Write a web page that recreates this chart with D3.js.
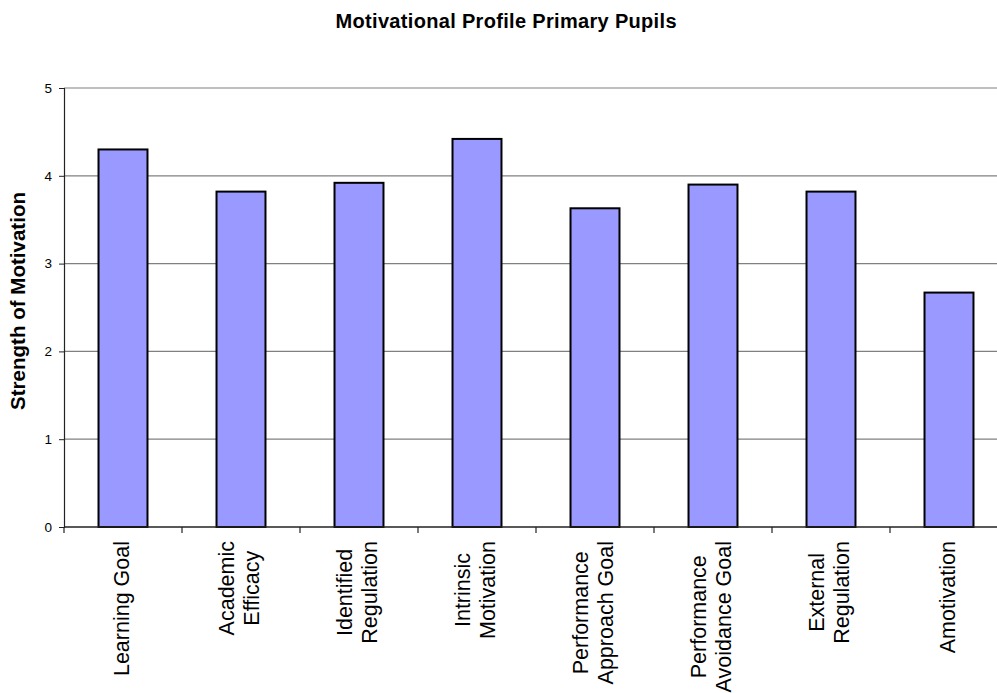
<!DOCTYPE html>
<html>
<head>
<meta charset="utf-8">
<script src="https://cdn.jsdelivr.net/npm/d3@7"></script>
<style>
  html, body { margin: 0; padding: 0; background: #fff; }
  svg { display: block; font-family: Arial, "Liberation Sans", sans-serif; }
</style>
</head>
<body>
<svg id="chart" width="997" height="693"></svg>
<script>
const categories = [
  "Learning Goal",
  "Academic\nEfficacy",
  "Identified\nRegulation",
  "Intrinsic\nMotivation",
  "Performance\nApproach Goal",
  "Performance\nAvoidance Goal",
  "External\nRegulation",
  "Amotivation"
];
const values = [4.30, 3.82, 3.92, 4.42, 3.63, 3.90, 3.82, 2.67];
const yTicks = [0, 1, 2, 3, 4, 5];
const chartTitle = "Motivational Profile Primary Pupils";
const yTitle = "Strength of Motivation";

const svg = d3.select("#chart");
const W = 997, H = 693;
const mLeft = 64, mRight = 1008, mTop = 88, mBottom = 527;

const x = d3.scaleBand().domain(categories).range([mLeft, mRight])
  .paddingInner(0.585).paddingOuter(0.2925);
const y = d3.scaleLinear().domain([0, 5]).range([mBottom, mTop]);

// gridlines
svg.append("g").selectAll("line").data(yTicks.filter(d => d > 0)).join("line")
  .attr("x1", mLeft).attr("x2", W)
  .attr("y1", d => y(d)).attr("y2", d => y(d))
  .attr("stroke", "#808080").attr("stroke-width", 1.2);

// bars
svg.append("g").selectAll("rect").data(values).join("rect")
  .attr("x", (d, i) => x(categories[i]))
  .attr("y", d => y(d))
  .attr("width", x.bandwidth())
  .attr("height", d => y(0) - y(d))
  .attr("fill", "#9999FF")
  .attr("stroke", "#000")
  .attr("stroke-width", 2);

// y axis
const yAxis = d3.axisLeft(y).tickValues(yTicks).tickSize(5).tickPadding(7).tickFormat(d3.format("d"));
const gy = svg.append("g").attr("transform", `translate(${mLeft},0)`).call(yAxis);
gy.select(".domain").attr("stroke", "#222").attr("stroke-width", 1.2);
gy.selectAll(".tick line").attr("stroke", "#222");
gy.selectAll(".tick text").attr("font-size", 13.5).attr("fill", "#000")
  .attr("font-family", "Arial, 'Liberation Sans', sans-serif");

// x axis baseline and ticks at band boundaries
svg.append("line").attr("x1", mLeft).attr("x2", W).attr("y1", mBottom).attr("y2", mBottom)
  .attr("stroke", "#222").attr("stroke-width", 1.4);
const step = x.step();
svg.append("g").selectAll("line").data(d3.range(categories.length)).join("line")
  .attr("x1", i => mLeft + i * step).attr("x2", i => mLeft + i * step)
  .attr("y1", mBottom).attr("y2", mBottom + 6)
  .attr("stroke", "#222").attr("stroke-width", 1.2);

// category labels (rotated)
const fs = 21.5, lh = 25, labelTop = 541;
categories.forEach((c, i) => {
  const lines = c.split("\n");
  const cx = x(c) + x.bandwidth() / 2;
  const g = svg.append("g");
  const texts = lines.map((t, j) => {
    const bx = cx + (j - (lines.length - 1) / 2) * lh + 5.5;
    return g.append("text")
      .attr("transform", `translate(${bx},0) rotate(-90)`)
      .attr("font-size", fs)
      .attr("fill", "#000")
      .attr("text-anchor", "middle")
      .text(t);
  });
  const maxLen = d3.max(texts, t => t.node().getComputedTextLength());
  texts.forEach(t => t.attr("x", -(labelTop + maxLen / 2)));
});

// title
svg.append("text")
  .attr("x", 506).attr("y", 28)
  .attr("text-anchor", "middle")
  .attr("font-size", 20).attr("font-weight", "bold")
  .attr("textLength", 341).attr("lengthAdjust", "spacing")
  .text(chartTitle);

// y title
svg.append("text")
  .attr("transform", `translate(25,301) rotate(-90)`)
  .attr("text-anchor", "middle")
  .attr("font-size", 20.5).attr("font-weight", "bold")
  .attr("textLength", 218).attr("lengthAdjust", "spacing")
  .text(yTitle);
</script>
</body>
</html>
